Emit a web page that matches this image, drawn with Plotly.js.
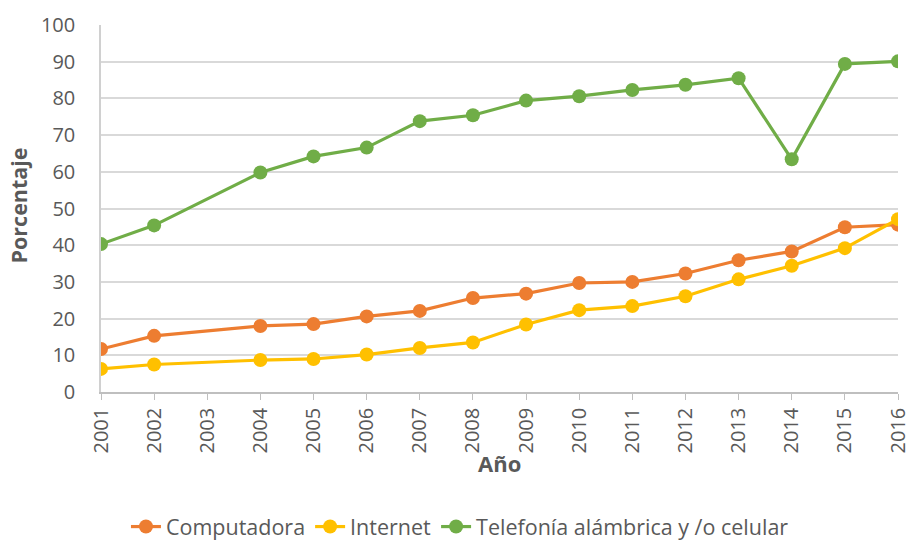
<!DOCTYPE html>
<html>
<head>
<meta charset="utf-8">
<script src="https://cdn.plot.ly/plotly-3.0.1.min.js"></script>
<style>html,body{margin:0;padding:0;background:#fff;}#chart{width:909px;height:544px;}</style>
</head>
<body>
<div id="chart"></div>
<script>
var years = [2001, 2002, 2003, 2004, 2005, 2006, 2007, 2008, 2009, 2010, 2011, 2012, 2013, 2014, 2015, 2016];
var computadora = [11.7, 15.3, null, 18.0, 18.5, 20.6, 22.1, 25.6, 26.8, 29.7, 30.0, 32.3, 35.9, 38.3, 44.9, 45.6];
var internet = [6.3, 7.5, null, 8.7, 9.0, 10.2, 12.0, 13.5, 18.4, 22.3, 23.4, 26.1, 30.7, 34.4, 39.2, 47.1];
var telefonia = [40.3, 45.4, null, 59.8, 64.2, 66.6, 73.8, 75.4, 79.4, 80.6, 82.3, 83.7, 85.5, 63.4, 89.4, 90.1];
var yTicks = [0, 10, 20, 30, 40, 50, 60, 70, 80, 90, 100];

var FONT = "'Open Sans', 'Liberation Sans', sans-serif";
var TXT = '#595959';
function series(name, y, color) {
  return {
    x: years, y: y, name: name, type: 'scatter', mode: 'lines+markers',
    connectgaps: true,
    line: {color: color, width: 3.2},
    marker: {color: color, size: 14}
  };
}
var data = [
  series('Computadora', computadora, '#ED7D31'),
  series('Internet', internet, '#FFC000'),
  series('Telefonía alámbrica y /o celular', telefonia, '#70AD47')
];
var layout = {
  width: 909, height: 544,
  margin: {l: 101, r: 11, t: 25, b: 152},
  paper_bgcolor: '#fff', plot_bgcolor: '#fff',
  font: {family: FONT, size: 20, color: TXT},
  showlegend: true,
  legend: {orientation: 'h', xref: 'container', yref: 'container', x: 0.506, xanchor: 'center',
           y: 0.032, yanchor: 'middle', font: {family: FONT, size: 21.5, color: TXT}},
  xaxis: {
    range: [2001, 2016], tickmode: 'array', tickvals: years, ticktext: years.map(String),
    tickangle: -90, showgrid: false, showline: true, linecolor: '#bfbfbf', linewidth: 1.5,
    ticks: 'outside', ticklen: 6, tickcolor: '#bfbfbf', zeroline: false, automargin: false,
    ticklabeloverflow: 'allow',
    tickfont: {family: FONT, size: 20, color: TXT}
  },
  yaxis: {
    range: [0, 100], tickmode: 'array', tickvals: yTicks,
    showgrid: true, gridcolor: '#d9d9d9', gridwidth: 1.5, automargin: false,
    showline: true, linecolor: '#d0d0d0', linewidth: 1.5, zeroline: false,
    ticks: '', ticklen: 0, ticklabelstandoff: 20,
    tickfont: {family: FONT, size: 20, color: TXT}
  },
  annotations: [
    {text: '<b>Año</b>', xref: 'paper', yref: 'paper', x: 0.5, y: 0, yshift: -71,
     xanchor: 'center', yanchor: 'middle', showarrow: false,
     font: {family: FONT, size: 22, color: TXT}},
    {text: '<b>Porcentaje</b>', xref: 'paper', yref: 'paper', x: 0, y: 0.5, xshift: -83, yshift: 3,
     xanchor: 'center', yanchor: 'middle', textangle: -90, showarrow: false,
     font: {family: FONT, size: 21.5, color: TXT}}
  ]
};
Plotly.newPlot('chart', data, layout, {displayModeBar: false});
</script>
</body>
</html>
